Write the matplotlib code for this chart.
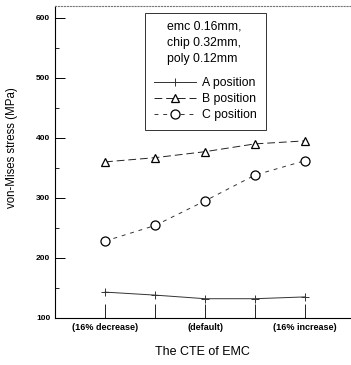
import matplotlib.pyplot as plt
from matplotlib.ticker import MultipleLocator

plt.rcParams['font.family'] = ['Liberation Sans', 'DejaVu Sans']

# data
x_pos = [1, 2, 3, 4, 5]
x_labels = ['(16% decrease)', '', '(default)', '', '(16% increase)']
a_stress = [143, 138, 132, 132, 135]
b_stress = [360, 367, 377, 390, 395]
c_stress = [228, 254, 295, 338, 362]
note_lines = ['emc 0.16mm,', 'chip 0.32mm,', 'poly 0.12mm']

fig = plt.figure(figsize=(3.51, 3.65), dpi=100)
ax = fig.add_axes([0.157, 0.129, 0.84, 0.855])

ax.plot(x_pos, a_stress, color='#333333', lw=0.7, ls='-', marker='+',
        ms=6, mew=0.7, label='A position')
ax.plot(x_pos, b_stress, color='#222222', lw=0.7, ls=(0, (8, 4)), marker='^',
        ms=6, mfc='white', mec='black', mew=0.9, label='B position')
ax.plot(x_pos, c_stress, color='#333333', lw=0.7, ls=(0, (4, 5)), marker='o',
        ms=6.5, mfc='white', mec='black', mew=0.9, label='C position')

ax.set_xlim(0, 5.9)
ax.set_ylim(100, 620)
ax.set_xticks(x_pos)
ax.set_xticklabels(x_labels, fontsize=6.5, fontweight='bold')
ax.yaxis.set_major_locator(MultipleLocator(100))
ax.yaxis.set_minor_locator(MultipleLocator(50))
ax.set_yticks([100, 200, 300, 400, 500, 600])
ax.tick_params(axis='y', labelsize=6, direction='in', length=7, width=0.7)
ax.tick_params(axis='y', which='minor', direction='in', length=3, width=0.6)
ax.tick_params(axis='x', direction='in', length=10, width=0.6, pad=4)
for lab in ax.get_yticklabels():
    lab.set_fontweight('bold')

ax.spines['right'].set_visible(False)
ax.spines['top'].set_color('#777777')
ax.spines['top'].set_linestyle(':')
for s in ['left', 'bottom', 'top']:
    ax.spines[s].set_linewidth(0.8)

ax.set_ylabel('von-Mises stress (MPa)', fontsize=8.3, labelpad=13)
ax.yaxis.set_label_coords(-0.125, 0.545)
ax.set_xlabel('The CTE of EMC', fontsize=9, labelpad=10)

# legend with blank title lines; the note is drawn on top, left aligned
leg = ax.legend(title='emc 0.16mm,\nchip 0.32mm,\npoly 0.12mm',
                loc='upper left', bbox_to_anchor=(0.305, 0.978),
                fontsize=8.8, title_fontsize=8.8, frameon=True, fancybox=False,
                edgecolor='black', handlelength=3.4, handletextpad=0.5,
                borderpad=0.75, labelspacing=0.33, borderaxespad=0)
leg._legend_box.sep = 8
leg.get_title().set_linespacing(1.45)
leg.get_title().set_alpha(0)
leg.get_frame().set_linewidth(0.7)

ax.text(0.38, 0.952, '\n'.join(note_lines), transform=ax.transAxes,
        ha='left', va='top', fontsize=8.8, linespacing=1.45, zorder=10)

fig.savefig('out.png', dpi=100)
